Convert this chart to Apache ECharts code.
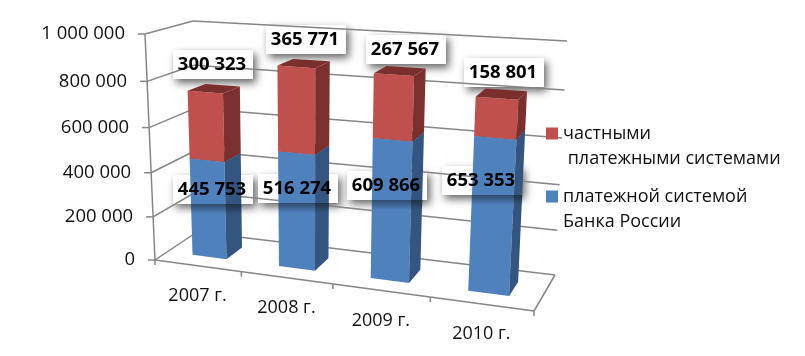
<!DOCTYPE html>
<html>
<head>
<meta charset="utf-8">
<style>html,body{margin:0;padding:0;background:#fff}#main{width:805px;height:356px}</style>
<script src="https://cdn.jsdelivr.net/npm/echarts@6/dist/echarts.min.js"></script>
</head>
<body>
<div id="main"></div>
<script>
var categories = ['2007 г.', '2008 г.', '2009 г.', '2010 г.'];
var bankValues = [445753, 516274, 609866, 653353];
var privateValues = [300323, 365771, 267567, 158801];
var yTicks = [0, 200000, 400000, 600000, 800000, 1000000];
var yTickLabels = ['0', '200 000', '400 000', '600 000', '800 000', '1 000 000'];
var seriesNames = ['платежной системой Банка России', 'частными платежными системами'];
var legendLines = {};
legendLines[seriesNames[0]] = '\nплатежной системой\nБанка России';
legendLines[seriesNames[1]] = '\nчастными\n платежными системами';

// where the value labels were dragged to in the original
var bankLabelPos = [[212, 190], [297, 189], [386, 186], [481, 181]];
var privateLabelPos = [[212, 65], [305, 40], [405, 50], [503, 73]];

var FONT = '"Open Sans", sans-serif';
var LINE = '#868686';

// corners of the 3d box on screen
var floorBox = { fl: [155, 260], fr: [534, 311], br: [555, 275], bl: [197, 232] };
var roofBox = { fl: [145, 34], fr: [548, 59], br: [567, 41], bl: [193, 21] };
var KU = 0.13, KV = 0.06; // perspective squeeze along category and value
var BAR_W = 0.4, DEPTH0 = 0.3, DEPTH1 = 0.7;

function mix(a, b, t) {
    return [a[0] + (b[0] - a[0]) * t, a[1] + (b[1] - a[1]) * t];
}
function onPlane(q, u, w) {
    return mix(mix(q.fl, q.fr, u), mix(q.bl, q.br, u), w);
}
// u,v,w all 0..1: category, value, depth
function project(u, v, w) {
    var tu = u / (1 + KU * (1 - u));
    var tv = v / (1 + KV * (1 - v));
    return mix(onPlane(floorBox, tu, w), onPlane(roofBox, tu, w), tv);
}
function normX(params, px) {
    return (px - params.coordSys.x) / params.coordSys.width;
}
function normY(params, py) {
    return (params.coordSys.y + params.coordSys.height - py) / params.coordSys.height;
}
function poly(points, color, z2) {
    return { type: 'polygon', shape: { points: points }, style: { fill: color }, z2: z2 || 0 };
}
function line(a, b) {
    return { type: 'line', shape: { x1: a[0], y1: a[1], x2: b[0], y2: b[1] }, style: { stroke: LINE, lineWidth: 1.5 } };
}
function fmt(n) {
    return String(n).replace(/\B(?=(\d{3})+$)/g, ' ');
}

function renderFrame(params, api) {
    var kids = [];
    yTicks.forEach(function (t, i) {
        var v = normY(params, api.coord([0, t])[1]);
        var a = project(0, v, 0), b = project(0, v, 1), c = project(1, v, 1);
        if (t > 0) {
            kids.push(line(a, b));
            kids.push(line(b, c));
        }
        kids.push(line([a[0] - 7, a[1]], a));
        kids.push({
            type: 'text',
            style: { text: yTickLabels[i], x: a[0] - 20, y: a[1], align: 'right', verticalAlign: 'middle', font: '18.5px ' + FONT, fill: '#111' }
        });
    });
    kids.push(line(project(0, 0, 0), project(0, 1, 0)));
    kids.push(line(project(0, 0, 0), project(1, 0, 0)));
    kids.push(line(project(1, 0, 0), project(1, 0, 1)));
    kids.push(line(project(1, 0, 1), project(0, 0, 1)));
    kids.push(line(project(0, 0, 1), project(0, 0, 0)));
    var band = api.size([1, 0])[0];
    for (var i = 0; i <= categories.length; i++) {
        var p = project(normX(params, api.coord([0, 0])[0] - band / 2 + band * i), 0, 0);
        kids.push(line(p, [p[0], p[1] + 5]));
    }
    categories.forEach(function (c, j) {
        var q = project(normX(params, api.coord([j, 0])[0]), 0, 0);
        kids.push({
            type: 'text',
            style: { text: c, x: q[0], y: q[1] + 30, align: 'center', verticalAlign: 'middle', font: '18px ' + FONT, fill: '#111' }
        });
    });
    return { type: 'group', children: kids };
}

function renderBox(params, api) {
    var i = params.dataIndex;
    var pos = params.seriesIndex === 0 ? bankLabelPos[i] : privateLabelPos[i];
    return {
        type: 'rect',
        shape: { x: pos[0] - 39, y: pos[1] - 15, width: 80, height: 29 },
        style: { fill: '#fff', shadowColor: 'rgba(0,0,0,0.6)', shadowBlur: 8, shadowOffsetX: 3, shadowOffsetY: 4 }
    };
}

function makeBar(front, side, roof, labelPos) {
    return function (params, api) {
        var i = api.value(0);
        var base = api.coord([i, api.value(1)]);
        var topPt = api.coord([i, api.value(2)]);
        var half = api.size([1, 0])[0] * BAR_W / 2;
        var u0 = normX(params, base[0] - half), u1 = normX(params, base[0] + half);
        var v0 = normY(params, base[1]), v1 = normY(params, topPt[1]);
        var kids = [
            poly([project(u0, v0, DEPTH0), project(u1, v0, DEPTH0), project(u1, v1, DEPTH0), project(u0, v1, DEPTH0)], front),
            poly([project(u1, v0, DEPTH0), project(u1, v0, DEPTH1), project(u1, v1, DEPTH1), project(u1, v1, DEPTH0)], side),
            poly([project(u0, v1, DEPTH0), project(u1, v1, DEPTH0), project(u1, v1, DEPTH1), project(u0, v1, DEPTH1)], roof)
        ];
        if (labelPos) {
            // the label shadow lies over the column
            var x0 = project(u0, v1 * 0.6, DEPTH0)[0], x1 = project(u1, v1 * 0.6, DEPTH1)[0];
            kids.push({
                type: 'rect',
                shape: { x: x0, y: labelPos[i][1] + 14, width: x1 - x0, height: 10 },
                style: {
                    fill: {
                        type: 'linear', x: 0, y: 0, x2: 0, y2: 1,
                        colorStops: [{ offset: 0, color: 'rgba(0,0,0,0.42)' }, { offset: 1, color: 'rgba(0,0,0,0)' }]
                    }
                }
            });
        }
        return { type: 'group', children: kids };
    };
}

function renderText(params, api) {
    var i = params.dataIndex;
    var isBank = params.seriesId === 'textBank';
    var pos = isBank ? bankLabelPos[i] : privateLabelPos[i];
    var val = isBank ? bankValues[i] : privateValues[i];
    return {
        type: 'text',
        style: {
            text: fmt(val), x: pos[0], y: pos[1], align: 'center', verticalAlign: 'middle',
            font: 'bold 18.5px ' + FONT, fill: '#000',
            shadowColor: 'rgba(0,0,0,0.6)', shadowBlur: 3, shadowOffsetX: 1, shadowOffsetY: 1
        }
    };
}

var bankData = categories.map(function (c, i) { return [i, 0, bankValues[i]]; });
var privateData = categories.map(function (c, i) { return [i, bankValues[i], bankValues[i] + privateValues[i]]; });
var indexData = categories.map(function (c, i) { return [i, 0]; });

var option = {
    backgroundColor: '#fff',
    animation: false,
    grid: { left: 155, top: 34, width: 400, height: 226 },
    xAxis: { type: 'category', data: categories, show: false },
    yAxis: { type: 'value', min: 0, max: 1000000, interval: 200000, show: false },
    legend: {
        orient: 'vertical', left: 546, top: 96, itemWidth: 12, itemHeight: 12, itemGap: -12,
        icon: 'rect', padding: 0, selectedMode: false,
        data: [seriesNames[1], seriesNames[0]],
        formatter: function (name) { return legendLines[name]; },
        textStyle: { fontFamily: 'Open Sans', fontSize: 18, lineHeight: 25, color: '#111' }
    },
    series: [
        { id: 'boxBank', type: 'custom', z: 1, silent: true, data: indexData, renderItem: renderBox },
        { id: 'boxPrivate', type: 'custom', z: 1, silent: true, data: indexData, renderItem: renderBox },
        { id: 'frame', type: 'custom', z: 2, silent: true, data: [[0, 0]], renderItem: renderFrame },
        {
            name: seriesNames[0], type: 'custom', z: 3, silent: true, data: bankData,
            itemStyle: { color: '#4F81BD' },
            renderItem: makeBar('#4F81BD', '#34557F', '#2F4D73', bankLabelPos)
        },
        {
            name: seriesNames[1], type: 'custom', z: 4, silent: true, data: privateData,
            itemStyle: { color: '#C0504D' },
            renderItem: makeBar('#C0504D', '#7C302E', '#7A2F2D', null)
        },
        { id: 'textBank', type: 'custom', z: 5, silent: true, data: indexData, renderItem: renderText },
        { id: 'textPrivate', type: 'custom', z: 5, silent: true, data: indexData, renderItem: renderText }
    ]
};

var myChart = echarts.init(document.getElementById('main'));
myChart.setOption(option);
</script>
</body>
</html>
